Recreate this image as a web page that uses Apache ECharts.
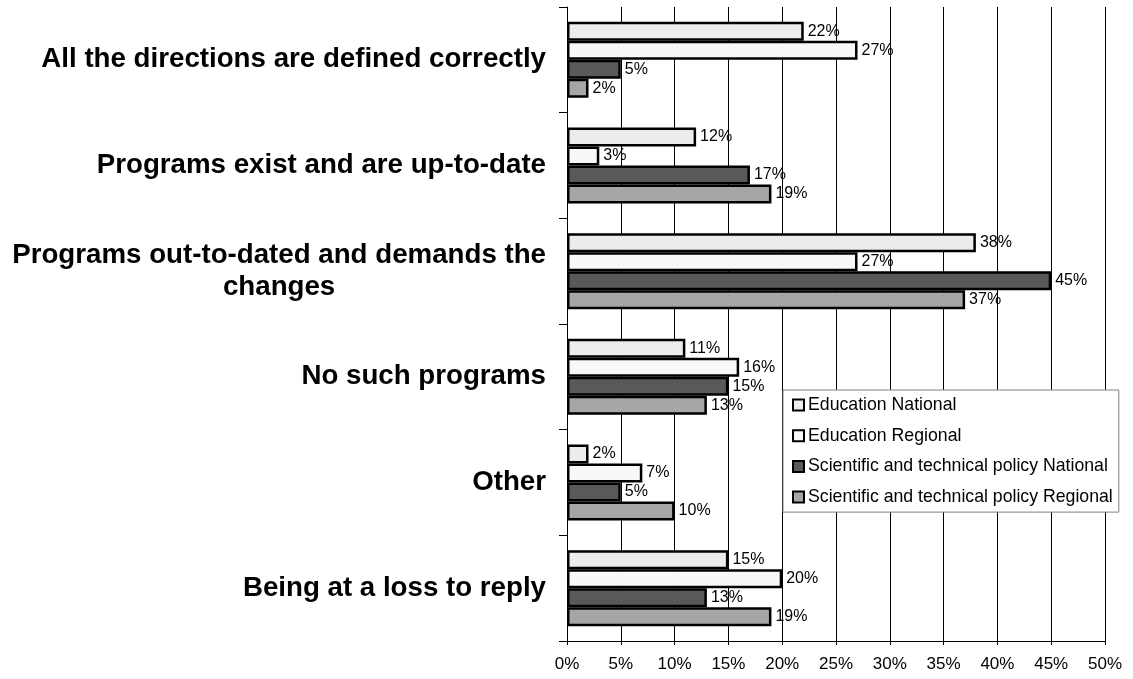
<!DOCTYPE html>
<html>
<head>
<meta charset="utf-8">
<script src="https://cdn.jsdelivr.net/npm/echarts@6/dist/echarts.min.js"></script>
<style>
  html, body { margin: 0; padding: 0; background: #fff; }
  #chart { width: 1133px; height: 679px; }
</style>
</head>
<body>
<div id="chart"></div>
<script>
// Survey answers, share of respondents (%)
const categories = [
  'All the directions are defined correctly',
  'Programs exist and are up-to-date',
  'Programs out-to-dated and demands the\nchanges',
  'No such programs',
  'Other',
  'Being at a loss to reply'
];
const seriesNames = [
  'Education National',
  'Education Regional',
  'Scientific and technical policy National',
  'Scientific and technical policy Regional'
];
const educationNational = [22, 12, 38, 11, 2, 15];
const educationRegional = [27, 3, 27, 16, 7, 20];
const sciTechNational = [5, 17, 45, 15, 5, 13];
const sciTechRegional = [2, 19, 37, 13, 10, 19];

const seriesValues = [educationNational, educationRegional, sciTechNational, sciTechRegional];
const seriesColors = ['#ececec', '#f8f8f8', '#595959', '#a6a6a6'];

const FONT = 'Arial, "Liberation Sans", sans-serif';

const chart = echarts.init(document.getElementById('chart'), null, { renderer: 'canvas' });

chart.setOption({
  backgroundColor: '#ffffff',
  animation: false,
  grid: { left: 567, right: 28, top: 7, bottom: 38, containLabel: false },
  xAxis: {
    type: 'value',
    min: 0,
    max: 50,
    interval: 5,
    axisLine: { show: true, lineStyle: { color: '#000', width: 1 } },
    axisTick: { show: true, length: 4, lineStyle: { color: '#000' } },
    axisLabel: {
      formatter: '{value}%',
      color: '#000',
      fontFamily: FONT,
      fontSize: 17,
      margin: 15
    },
    splitLine: { show: true, lineStyle: { color: '#000', width: 1 } }
  },
  yAxis: {
    type: 'category',
    inverse: true,
    data: categories,
    axisLine: { show: true, lineStyle: { color: '#000', width: 1 } },
    axisTick: { show: true, length: 8, alignWithLabel: false, lineStyle: { color: '#000' } },
    axisLabel: {
      margin: 21,
      align: 'right',
      formatter: v => v.split('\n').map(l => '{c|' + l + '}').join('\n'),
      rich: {
        c: {
          align: 'center',
          fontFamily: FONT,
          fontSize: 27.7,
          fontWeight: 'bold',
          color: '#000',
          lineHeight: 32
        }
      }
    },
    splitLine: { show: false }
  },
  legend: {
    orient: 'vertical',
    left: 783,
    top: 390,
    data: seriesNames,
    icon: 'rect',
    itemWidth: 11,
    itemHeight: 11,
    itemGap: 12.7,
    padding: [6, 6, 6, 9],
    backgroundColor: '#ffffff',
    borderColor: '#808080',
    borderWidth: 1,
    borderRadius: 0,
    itemStyle: { borderColor: '#000', borderWidth: 2 },
    textStyle: { fontFamily: FONT, fontSize: 17.7, color: '#000', lineHeight: 18, padding: [0, 0, 0, -1] }
  },
  series: seriesNames.map((name, i) => ({
    name: name,
    type: 'bar',
    data: seriesValues[i],
    barGap: '0%',
    barCategoryGap: '28%',
    itemStyle: { color: seriesColors[i], borderColor: '#000', borderWidth: 2.5 },
    label: {
      show: true,
      position: 'right',
      distance: 4,
      formatter: '{c}%',
      color: '#000',
      fontFamily: FONT,
      fontSize: 16
    }
  }))
});
</script>
</body>
</html>
